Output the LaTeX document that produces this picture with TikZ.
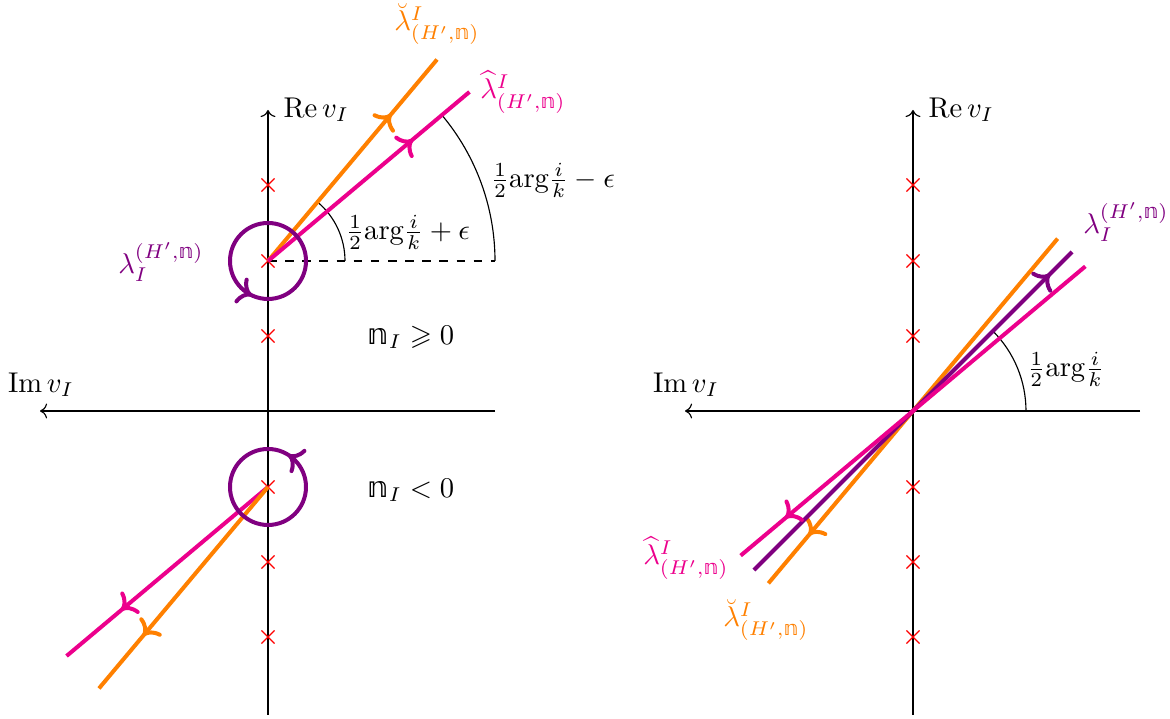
\documentclass[tikz,border=0pt]{standalone}
\usepackage{amsmath,amssymb}
\usepackage{fontspec}
\newfontfamily\dvs{DejaVu Sans}
\usetikzlibrary{decorations.markings,shapes.misc,arrows.meta}
\definecolor{lorange}{RGB}{255,128,0}
\definecolor{lpink}{RGB}{236,0,140}
\definecolor{lpurple}{RGB}{128,0,128}
\newcommand{\bbn}{\text{\dvs 𝕟}}
\newcommand{\hargik}{\tfrac{1}{2}\mathrm{arg}\tfrac{i}{k}}
\begin{document}
\begin{tikzpicture}[x=0.35pt,y=0.35pt,
  thickline/.style={line width=1.4pt},
  axisline/.style={line width=0.4pt,->},
  polemark/.style={cross out,draw=red,line width=0.4pt,minimum size=4.2pt,inner sep=0pt},
  midarrow/.style={postaction={decorate},decoration={markings,mark=at position #1 with {\arrow{Computer Modern Rightarrow[scale=1]}}}},
  thinarc/.style={line width=0.4pt}]
\useasboundingbox (0,0) rectangle (1170,719);

% ---------- LEFT ----------
\coordinate (LO) at (268,308);
\coordinate (Lbot) at (268,4);
\coordinate (Ltop) at (268,609);
\coordinate (Lright) at (495,308);
\coordinate (Lleft) at (40,308);
\draw[axisline] (Lbot) -- (Ltop);
\draw[axisline] (Lright) -- (Lleft);
\node[anchor=west,inner sep=0pt] (LRe) at (283,609) {$\operatorname{Re} v_I$};
\node[inner sep=0pt] (LIm) at (41,334) {$\operatorname{Im} v_I$};

\foreach \n/\y in {a/534,b/458,c/383,d/232,e/157,f/82}
  \node[polemark] (Lp\n) at (268,\y) {};

\coordinate (P1) at (268,458);
\coordinate (P2) at (268,232);
\path (P1) ++(50:263) coordinate (P1o);
\path (P1) ++(40:263) coordinate (P1p);
\path (P2) ++(230:263) coordinate (P2o);
\path (P2) ++(220:263) coordinate (P2p);
\path (P1) ++(0:227) coordinate (P1d);

\draw[dashed,line width=0.4pt] (P1) -- (P1d);
\draw[thinarc] (P1) ++(0:77) arc[start angle=0,end angle=50,radius=77];
\draw[thinarc] (P1) ++(0:227) arc[start angle=0,end angle=40,radius=227];

\draw[thickline,lorange,midarrow=0.73] (P1) -- (P1o);
\draw[thickline,lpink,midarrow=0.72] (P1) -- (P1p);
\draw[thickline,lpink,midarrow=0.73] (P2) -- (P2p);
\draw[thickline,lorange,midarrow=0.74] (P2) -- (P2o);

\draw[thickline,lpurple,midarrow=0.68] (P1) ++(38,0) arc[start angle=0,end angle=360,radius=38];
\draw[thickline,lpurple,midarrow=0.16] (P2) ++(38,0) arc[start angle=0,end angle=360,radius=38];

\node[lorange,inner sep=0pt] (Lbreve) at (437,695) {$\breve{\lambda}^I_{(H',\bbn)}$};
\node[lpink,inner sep=0pt] (Lhat) at (523,627) {$\widehat{\lambda}^I_{(H',\bbn)}$};
\node[lpurple,inner sep=0pt] (Llam) at (161,457) {$\lambda_I^{(H',\bbn)}$};
\node[inner sep=0pt] (Lang1) at (408,487) {$\hargik+\epsilon$};
\node[inner sep=0pt] (Lang2) at (553,539) {$\hargik-\epsilon$};
\node[inner sep=0pt] (Lpos) at (411,382) {$\bbn_I\geqslant 0$};
\node[inner sep=0pt] (Lneg) at (411,229) {$\bbn_I< 0$};

% ---------- RIGHT ----------
\coordinate (RO) at (913,308);
\coordinate (Rbot) at (913,4);
\coordinate (Rtop) at (913,609);
\coordinate (Rright) at (1140,308);
\coordinate (Rleft) at (685,308);
\draw[axisline] (Rbot) -- (Rtop);
\draw[axisline] (Rright) -- (Rleft);
\node[anchor=west,inner sep=0pt] (RRe) at (928,609) {$\operatorname{Re} v_I$};
\node[inner sep=0pt] (RIm) at (686,334) {$\operatorname{Im} v_I$};

\foreach \n/\y in {a/534,b/458,c/383,d/232,e/157,f/82}
  \node[polemark] (Rp\n) at (913,\y) {};

\path (RO) ++(50:225) coordinate (Rot);
\path (RO) ++(230:225) coordinate (Rob);
\path (RO) ++(45:225) coordinate (Rut);
\path (RO) ++(225:225) coordinate (Rub);
\path (RO) ++(40:225) coordinate (Rpt);
\path (RO) ++(220:225) coordinate (Rpb);

\draw[thinarc] (RO) ++(0:113) arc[start angle=0,end angle=45,radius=113];

\draw[thickline,lorange,midarrow=0.86] (Rot) -- (Rob);
\draw[thickline,lpurple,midarrow=0.93] (Rub) -- (Rut);
\draw[thickline,lpink,midarrow=0.87] (Rpt) -- (Rpb);

\node[lpurple,inner sep=0pt] (Rlam) at (1126,497) {$\lambda_I^{(H',\bbn)}$};
\node[inner sep=0pt] (Rang) at (1066,350) {$\hargik$};
\node[lpink,inner sep=0pt] (Rhat) at (686,161) {$\widehat{\lambda}^I_{(H',\bbn)}$};
\node[lorange,inner sep=0pt] (Rbreve) at (766,99) {$\breve{\lambda}^I_{(H',\bbn)}$};
\end{tikzpicture}
\end{document}
